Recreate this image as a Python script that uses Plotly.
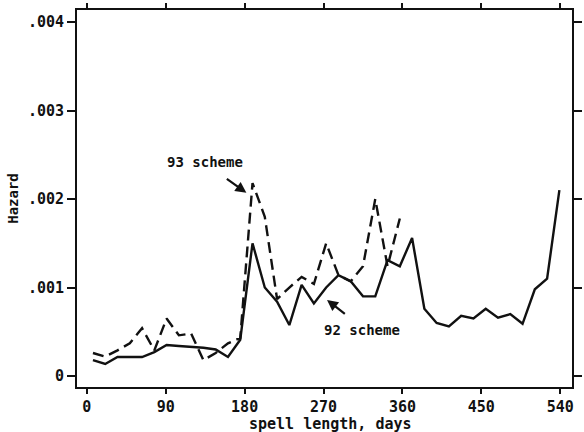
import plotly.graph_objects as go

# Spell length midpoints, two-week intervals (days)
days_92 = [7, 21, 35, 49, 63, 77, 91, 105, 119, 133, 147, 161, 175, 189, 203,
           217, 231, 245, 259, 273, 287, 301, 315, 329, 343, 357, 371, 385,
           399, 413, 427, 441, 455, 469, 483, 497, 511, 525, 539]
hazard_92 = [0.00018, 0.000136, 0.000215, 0.000215, 0.000215, 0.00027, 0.00035,
             0.00034, 0.00033, 0.00032, 0.0003, 0.000215, 0.00041, 0.0015,
             0.001, 0.00084, 0.000576, 0.00103, 0.00082, 0.001, 0.00114,
             0.00107, 0.0009, 0.0009, 0.00131, 0.00124, 0.00156, 0.00076,
             0.0006, 0.00056, 0.00068, 0.00065, 0.00076, 0.00066, 0.0007,
             0.00059, 0.00098, 0.0011, 0.0021]

days_93 = days_92[:26]
hazard_93 = [0.00026, 0.00022, 0.00029, 0.00037, 0.00054, 0.00029, 0.00065,
             0.00046, 0.00048, 0.00018, 0.00026, 0.00037, 0.00043, 0.00218,
             0.0018, 0.00087, 0.001, 0.00112, 0.00104, 0.0015, 0.00114,
             0.00107, 0.00124, 0.002, 0.00124, 0.00178]

x_ticks = [0, 90, 180, 270, 360, 450, 540]
y_ticks = [0, 0.001, 0.002, 0.003, 0.004]
y_tick_labels = ["0", ".001", ".002", ".003", ".004"]

FONT = "DejaVu Sans Mono"
INK = "#111111"

fig = go.Figure()
fig.add_trace(go.Scatter(x=days_92, y=hazard_92, mode="lines",
                         line=dict(color=INK, width=2.4), name="92 scheme"))
fig.add_trace(go.Scatter(x=days_93, y=hazard_93, mode="lines",
                         line=dict(color=INK, width=2.4, dash="11px,6px"),
                         name="93 scheme"))

label_font = dict(family=FONT, size=14, color=INK, weight="bold")

# Scheme labels with pointer arrows
fig.add_annotation(x=135, y=0.00242, text="93 scheme", showarrow=False,
                   font=label_font)
fig.add_annotation(x=182, y=0.00207, ax=158, ay=0.00224, axref="x", ayref="y",
                   text="", showarrow=True, arrowhead=2, arrowsize=1,
                   arrowwidth=2.2, arrowcolor=INK)
fig.add_annotation(x=314, y=0.00052, text="92 scheme", showarrow=False,
                   font=label_font)
fig.add_annotation(x=274, y=0.00086, ax=296, ay=0.00069, axref="x", ayref="y",
                   text="", showarrow=True, arrowhead=2, arrowsize=1,
                   arrowwidth=2.2, arrowcolor=INK)

# x-axis title, set just under the tick labels
fig.add_annotation(x=0.513, y=-0.097, xref="paper", yref="paper",
                   xanchor="center", yanchor="middle", showarrow=False,
                   text="spell length, days",
                   font=dict(family=FONT, size=15, color=INK, weight="bold"))

axis_common = dict(showgrid=False, zeroline=False, showline=True,
                   linecolor=INK, linewidth=2, mirror="allticks",
                   ticks="outside", tickwidth=2, tickcolor=INK,
                   tickfont=dict(family=FONT, size=15, color=INK,
                                 weight="bold"))

fig.update_xaxes(range=[-11.2, 553.4], tickvals=x_ticks, ticklen=5,
                 **axis_common)
fig.update_yaxes(range=[-0.000124, 0.004136], tickvals=y_ticks,
                 ticktext=y_tick_labels, ticklen=8,
                 title=dict(text="Hazard", standoff=6,
                            font=dict(family=FONT, size=14, color=INK,
                                      weight="bold")),
                 **axis_common)

fig.update_layout(width=584, height=432, showlegend=False,
                  plot_bgcolor="white", paper_bgcolor="white",
                  margin=dict(l=77, r=2, t=10, b=45))

fig.write_html("out.html")
